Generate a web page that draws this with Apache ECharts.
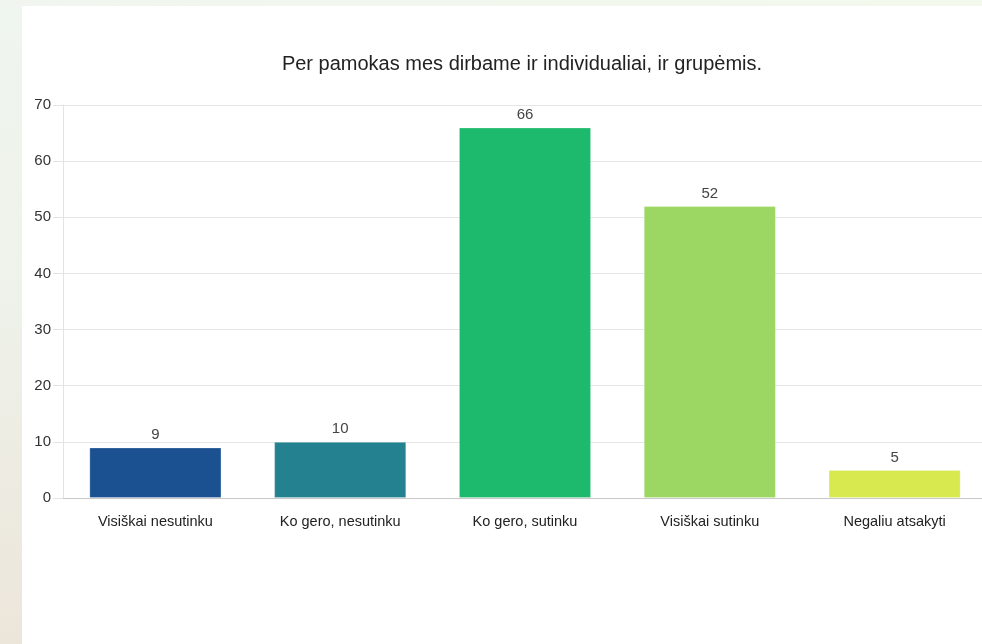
<!DOCTYPE html>
<html>
<head>
<meta charset="utf-8">
<script src="https://cdn.jsdelivr.net/npm/echarts@6/dist/echarts.min.js"></script>
<style>
html,body{margin:0;padding:0;width:982px;height:644px;overflow:hidden;}
body{background:linear-gradient(180deg,#eff5ef 0%,#eef2ea 45%,#ece5da 100%);position:relative;}
#topstrip{position:absolute;left:0;top:0;width:982px;height:6px;background:linear-gradient(90deg,#f0f5ef,#f4f9ee);}
#panel{position:absolute;left:22px;top:6px;width:960px;height:638px;background:#fff;}
#chart{position:absolute;left:0;top:0;width:987px;height:644px;}
</style>
</head>
<body>
<div id="topstrip"></div>
<div id="panel"></div>
<div id="chart"></div>
<script>
const titleText = 'Per pamokas mes dirbame ir individualiai, ir grupėmis.';
const categories = ['Visiškai nesutinku', 'Ko gero, nesutinku', 'Ko gero, sutinku', 'Visiškai sutinku', 'Negaliu atsakyti'];
const values = [9, 10, 66, 52, 5];
const barColors = ['#1b5190', '#238190', '#1dba6d', '#9dd763', '#d8e84f'];
const yTicks = [0, 10, 20, 30, 40, 50, 60, 70];

const chart = echarts.init(document.getElementById('chart'), null, {renderer: 'canvas'});
chart.setOption({
  backgroundColor: 'transparent',
  animation: false,
  textStyle: {fontFamily: 'Liberation Sans, Arial, sans-serif'},
  title: {
    text: titleText,
    left: 517, top: 49, textAlign: 'center',
    textStyle: {fontSize: 20, fontWeight: 'normal', color: '#222', fontFamily: 'Liberation Sans, Arial, sans-serif'}
  },
  grid: {left: 63, right: 0, top: 105, bottom: 146, containLabel: false},
  xAxis: {
    type: 'category',
    data: categories,
    axisLine: {lineStyle: {color: '#c8c8c8', width: 1}},
    axisTick: {show: false},
    axisLabel: {fontSize: 14.5, color: '#222', margin: 16, interval: 0}
  },
  yAxis: {
    type: 'value',
    min: yTicks[0], max: yTicks[yTicks.length - 1], interval: 10,
    axisLine: {show: true, lineStyle: {color: '#e3e3e3'}},
    axisTick: {show: true, length: 10, lineStyle: {color: '#e3e3e3'}},
    splitLine: {lineStyle: {color: '#e6e6e6'}},
    axisLabel: {fontSize: 15, color: '#333', margin: 12}
  },
  series: [{
    type: 'bar',
    data: values.map((v, i) => ({value: v, itemStyle: {color: barColors[i]}})),
    barWidth: '71.5%',
    itemStyle: {borderColor: 'rgba(255,255,255,0.25)', borderWidth: 1},
    label: {show: true, position: 'top', distance: 5, fontSize: 15, color: '#444'}
  }]
});
</script>
</body>
</html>
